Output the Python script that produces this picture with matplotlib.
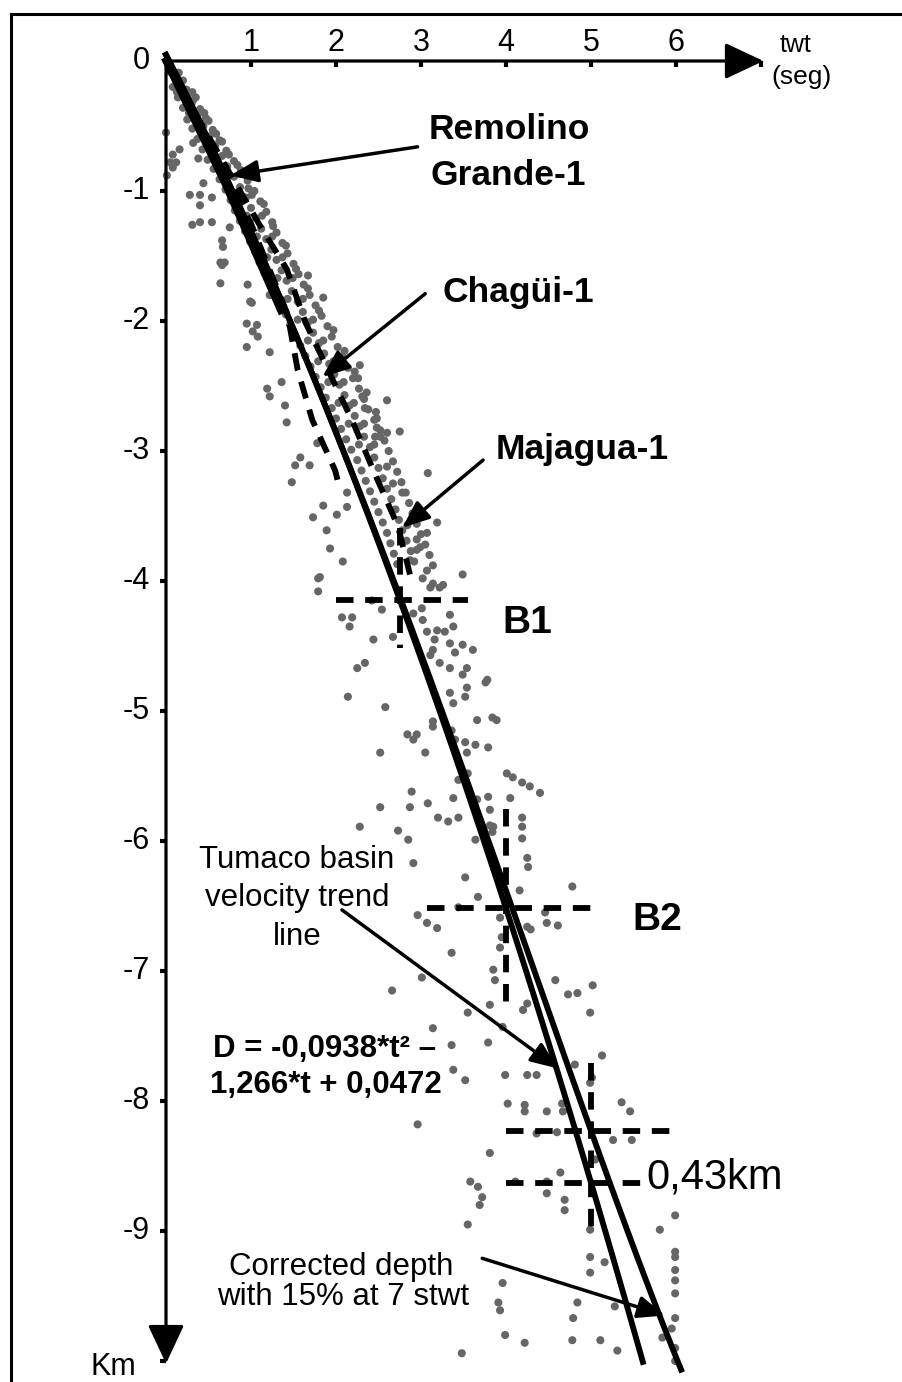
import numpy as np
import matplotlib
matplotlib.use("Agg")
import matplotlib.pyplot as plt
from matplotlib.lines import Line2D

plt.rcParams['font.family'] = ['Liberation Sans', 'DejaVu Sans']

# trend line D = a*t^2 + b*t + c  (from the chart) and the 15% correction at 7 s twt
trend_coeffs = [-0.0938, -1.266, 0.0472]
corr_at_7s = 0.15
t_trend_end = 5.61
t_corr_end = 6.06

# well curves (twt s, depth km)
well_left_t = [0, 0.5, 1.0, 1.43, 1.55, 1.72, 1.99, 2.04]
well_left_d = [0, -0.6, -1.25, -1.95, -2.38, -2.76, -3.15, -3.28]
well_right_t = [0, 0.5, 1.1, 1.42, 1.64, 2.2, 2.44, 2.73, 2.87]
well_right_d = [0, -0.58, -1.26, -1.6, -2.01, -2.78, -3.15, -3.58, -3.95]
well_top_t = [0, 0.7, 1.35]
well_top_d = [0, -0.95, -1.92]

# check-shot / velocity points
band_pts = [
    (0.04, -0.08), (0.10, -0.12), (0.15, -0.09), (0.08, -0.2), (0.17, -0.17), (0.24, -0.22),
    (0.14, -0.28), (0.25, -0.26), (0.32, -0.3), (0.2, -0.36), (0.3, -0.33), (0.4, -0.37),
    (0.25, -0.45), (0.37, -0.42), (0.47, -0.44), (0.31, -0.52), (0.44, -0.5), (0.55, -0.53),
    (0.37, -0.6), (0.51, -0.58), (0.63, -0.61), (0.43, -0.68), (0.58, -0.65), (0.71, -0.69),
    (0.49, -0.76), (0.66, -0.73), (0.8, -0.77), (0.56, -0.83), (0.72, -0.81), (0.88, -0.84),
    (0.63, -0.91), (0.8, -0.89), (0.96, -0.92), (0.7, -0.99), (0.87, -0.97), (1.04, -1.0),
    (0.76, -1.07), (0.94, -1.05), (1.11, -1.08), (0.81, -1.15), (1.0, -1.13), (1.18, -1.16),
    (0.87, -1.23), (1.06, -1.21), (1.25, -1.24), (0.93, -1.31), (1.12, -1.29), (1.3, -1.32),
    (0.99, -1.39), (1.18, -1.37), (1.37, -1.4), (1.05, -1.47), (1.24, -1.45), (1.43, -1.48),
    (1.1, -1.55), (1.3, -1.53), (1.5, -1.56), (1.16, -1.63), (1.36, -1.61), (1.56, -1.64),
    (1.22, -1.71), (1.42, -1.69), (1.62, -1.72), (1.29, -1.79), (1.48, -1.77), (1.69, -1.8),
    (1.35, -1.87), (1.55, -1.85), (1.76, -1.88), (1.41, -1.95), (1.61, -1.93), (1.83, -1.96),
    (1.46, -2.03), (1.67, -2.01), (1.9, -2.04), (1.52, -2.11), (1.73, -2.09), (1.95, -2.12),
    (1.58, -2.19), (1.8, -2.17), (2.02, -2.2), (1.64, -2.27), (1.86, -2.25), (2.08, -2.28),
    (1.7, -2.35), (1.92, -2.33), (2.14, -2.36), (1.76, -2.43), (1.98, -2.41), (2.2, -2.44),
    (1.82, -2.51), (2.04, -2.49), (2.27, -2.52), (1.88, -2.59), (2.1, -2.57), (2.33, -2.6),
    (1.95, -2.67), (2.16, -2.65), (2.38, -2.68), (2.0, -2.75), (2.22, -2.73), (2.45, -2.76),
    (2.06, -2.83), (2.28, -2.81), (2.52, -2.84), (2.12, -2.91), (2.33, -2.89), (2.57, -2.92),
    (2.18, -2.99), (2.4, -2.97), (2.62, -3.0), (2.25, -3.07), (2.45, -3.05), (2.67, -3.08),
    (2.3, -3.15), (2.5, -3.13), (2.72, -3.16), (2.35, -3.23), (2.55, -3.21), (2.77, -3.24),
    (2.4, -3.31), (2.6, -3.29), (2.82, -3.32), (2.45, -3.39), (2.65, -3.37), (2.86, -3.4),
    (2.5, -3.47), (2.7, -3.45), (2.9, -3.48), (2.55, -3.55), (2.74, -3.53), (2.95, -3.56),
    (2.6, -3.63), (2.78, -3.61), (3.0, -3.64), (2.64, -3.71), (2.83, -3.69), (3.05, -3.72),
    (2.68, -3.79), (2.88, -3.77), (3.1, -3.8), (2.72, -3.87), (2.92, -3.85), (3.14, -3.88),
    (0.13, -0.24), (0.31, -0.24), (0.27, -0.4), (0.45, -0.4), (0.41, -0.56), (0.59, -0.56),
    (0.56, -0.72), (0.74, -0.72), (0.69, -0.87), (0.87, -0.87), (0.83, -1.03), (1.01, -1.03),
    (0.95, -1.19), (1.13, -1.19), (1.07, -1.35), (1.25, -1.35), (1.19, -1.51), (1.37, -1.51),
    (1.31, -1.67), (1.49, -1.67), (1.43, -1.83), (1.61, -1.83), (1.55, -1.99), (1.73, -1.99),
    (1.67, -2.15), (1.85, -2.15), (1.79, -2.31), (1.97, -2.31), (1.91, -2.47), (2.09, -2.47),
    (2.03, -2.63), (2.21, -2.63), (2.15, -2.79), (2.33, -2.79), (2.27, -2.95), (2.45, -2.95),
    (0.2, -0.15), (0.35, -0.28), (0.5, -0.46), (0.66, -0.62), (0.84, -0.8), (0.97, -0.98),
    (1.15, -1.1), (1.26, -1.27), (1.41, -1.42), (1.53, -1.6), (1.67, -1.75), (1.8, -1.92),
    (1.97, -2.07), (2.1, -2.23), (2.22, -2.39), (2.36, -2.55), (2.47, -2.7), (2.6, -2.86),
]
shallow_pts = [
    (0.0, -0.55), (0.32, -0.63), (0.16, -0.68), (0.08, -0.72), (0.05, -0.78), (0.12, -0.78),
    (0.08, -0.82), (0.01, -0.88), (0.38, -0.75), (0.44, -0.94), (0.28, -1.03), (0.40, -1.03),
    (0.54, -1.05), (0.40, -1.11), (0.31, -1.26), (0.40, -1.24), (0.54, -1.24), (0.75, -1.28),
    (0.66, -1.38), (0.67, -1.43), (0.64, -1.55), (0.69, -1.55), (0.66, -1.57), (0.64, -1.71),
    (0.96, -1.72), (0.99, -1.85), (1.22, -1.8), (1.67, -1.65), (1.85, -1.82), (1.01, -1.86),
    (0.95, -2.02), (1.07, -2.03), (1.02, -2.08), (1.08, -2.12), (0.95, -2.2), (1.22, -2.24),
    (1.19, -2.52), (1.22, -2.58), (1.36, -2.47), (1.4, -2.65), (1.42, -2.78), (1.78, -2.94),
    (1.58, -3.05), (1.52, -3.11), (1.69, -3.11), (1.48, -3.24), (1.73, -3.51), (2.01, -3.49),
    (1.85, -3.42), (1.89, -3.61), (1.93, -3.75), (2.08, -3.85), (1.81, -3.97), (2.13, -3.32),
    (2.13, -3.43), (2.6, -2.61), (2.75, -2.85), (3.08, -3.17), (3.19, -3.55), (3.07, -3.63),
    (2.28, -2.34), (2.26, -2.44), (2.31, -2.58), (2.34, -2.67), (2.48, -2.75), (2.48, -2.82),
    (2.46, -2.89), (2.52, -2.89), (2.6, -3.12), (2.67, -3.25), (2.78, -3.32), (2.84, -3.57),
    (2.95, -3.68), (2.99, -3.74), (1.79, -3.98), (3.49, -3.95), (3.22, -4.05), (2.95, -3.76),
    (2.87, -3.84), (3.07, -3.92), (3.02, -3.98), (3.14, -4.02), (3.26, -4.03), (3.11, -4.05),
]
middle_pts = [
    (1.79, -4.08), (2.07, -4.28), (2.19, -4.28), (2.16, -4.35), (2.42, -4.15), (2.54, -4.22),
    (2.67, -4.43), (2.44, -4.45), (2.91, -4.25), (3.01, -4.21), (3.02, -4.3), (3.34, -4.26),
    (3.07, -4.39), (3.19, -4.38), (3.28, -4.39), (3.38, -4.35), (3.16, -4.45), (3.34, -4.48),
    (3.49, -4.49), (3.61, -4.53), (3.4, -4.55), (3.14, -4.53), (3.11, -4.57), (2.34, -4.63),
    (2.25, -4.67), (3.22, -4.63), (3.34, -4.67), (3.54, -4.67), (3.49, -4.72), (3.78, -4.76),
    (3.76, -4.78), (2.14, -4.89), (3.34, -4.86), (3.54, -4.82), (3.52, -4.89), (3.38, -4.94),
    (2.58, -4.97), (3.66, -5.07), (3.84, -5.05), (3.89, -5.07), (3.14, -5.08), (3.14, -5.12),
    (2.84, -5.18), (2.95, -5.18), (2.91, -5.22), (2.52, -5.32), (3.05, -5.32), (3.36, -5.15),
    (3.52, -5.24), (3.64, -5.26), (3.54, -5.32), (3.79, -5.28), (3.4, -5.22), (4.01, -5.48),
    (4.08, -5.51), (4.19, -5.55), (4.28, -5.58), (4.4, -5.63), (3.55, -5.48), (3.44, -5.53),
    (2.89, -5.62), (2.87, -5.74), (2.52, -5.74), (3.08, -5.71), (3.38, -5.67), (3.66, -5.68),
    (3.79, -5.66), (4.05, -5.67), (3.2, -5.82), (3.32, -5.85), (3.44, -5.82), (3.81, -5.76),
    (3.81, -5.88), (4.19, -5.82), (4.19, -5.89), (2.28, -5.89), (2.73, -5.92), (2.85, -5.99),
    (3.85, -5.89), (3.84, -5.93), (3.64, -5.99), (4.19, -5.98), (4.25, -6.13), (4.26, -6.2),
    (2.91, -6.17), (3.52, -6.28), (4.16, -6.38), (4.78, -6.35), (3.44, -6.51), (3.67, -6.43),
    (2.96, -6.57), (3.07, -6.63), (3.19, -6.67), (3.93, -6.59), (4.25, -6.66), (4.29, -6.68),
    (4.46, -6.55), (4.48, -6.63), (4.61, -6.65), (3.36, -6.86), (3.95, -6.74), (3.93, -6.82),
]
deep_pts = [
    (3.01, -7.05), (3.85, -6.99), (3.87, -7.07), (4.58, -7.07), (4.73, -7.18), (4.84, -7.17),
    (5.02, -7.11), (2.66, -7.15), (3.55, -7.32), (3.81, -7.26), (4.25, -7.25), (4.2, -7.3),
    (3.96, -7.43), (4.99, -7.32), (3.14, -7.44), (3.79, -7.55), (3.36, -7.57), (3.38, -7.76),
    (3.52, -7.84), (3.99, -7.8), (4.25, -7.8), (4.36, -7.8), (4.81, -7.72), (5.13, -7.65),
    (4.99, -7.86), (5.01, -7.82), (4.02, -8.02), (4.22, -8.03), (4.22, -8.08), (4.48, -8.08),
    (4.67, -8.08), (4.66, -8.02), (5.36, -8.01), (5.46, -8.08), (2.96, -8.18), (4.36, -8.25),
    (4.6, -8.24), (5.26, -8.3), (5.48, -8.3), (3.81, -8.4), (3.58, -8.62), (3.67, -8.66),
    (3.72, -8.74), (3.69, -8.8), (4.11, -8.62), (4.48, -8.62), (4.48, -8.71), (4.64, -8.55),
    (4.69, -8.76), (4.69, -8.84), (5.05, -8.45), (4.99, -8.99), (3.55, -8.95), (5.99, -8.88),
    (5.81, -8.99), (5.99, -9.16), (5.99, -9.2), (5.16, -9.24), (4.99, -9.2), (4.99, -9.32),
    (5.99, -9.3), (5.99, -9.38), (5.99, -9.48), (3.96, -9.4), (3.91, -9.55), (3.93, -9.61),
    (4.84, -9.55), (5.28, -9.58), (4.79, -9.67), (5.99, -9.67), (5.95, -9.75), (5.84, -9.82),
    (3.99, -9.8), (4.22, -9.86), (4.78, -9.84), (5.11, -9.84), (5.31, -9.92), (3.48, -9.94),
    (5.99, -9.9), (5.99, -10.0),
]

# marker crosses: twt (s), vertical reach above / below the trend (km)
marker_t = [2.75, 4.0, 5.0]
marker_up = [0.55, 0.76, 0.92]
marker_down = [0.37, 0.73, 0.36]
marker_labels = ['B1', 'B2', '0,43km']

x_ticks = [1, 2, 3, 4, 5, 6]
y_ticks = [0, -1, -2, -3, -4, -5, -6, -7, -8, -9]


def trend(t):
    return np.polyval(trend_coeffs, t)


def corrected(t):
    return trend(t) * (1 - corr_at_7s * (np.asarray(t) / 7.0) ** 3.5)


W, H = 903, 1382
X0, Y0, SX, SY = 166, 61, 85.0, 130.0
fig = plt.figure(figsize=(W / 100, H / 100), dpi=100)
ax = fig.add_axes([0, 0, 1, 1])
ax.set_xlim(-X0 / SX, (W - X0) / SX)
ax.set_ylim(-(H - Y0) / SY, Y0 / SY)
ax.axis('off')

# frame (left and top only)
fig.add_artist(Line2D([11 / W, 11 / W], [0, 1 - 14 / H], transform=fig.transFigure, color='k', lw=2.2))
fig.add_artist(Line2D([11 / W, 1], [1 - 14 / H, 1 - 14 / H], transform=fig.transFigure, color='k', lw=2.2))

pts = np.array(band_pts + shallow_pts + middle_pts + deep_pts)
ax.scatter(pts[:, 0], pts[:, 1], s=34, color='#666666', edgecolors='none', zorder=2)

# axes with arrows
arr = dict(arrowstyle='-|>,head_length=1.6,head_width=0.75', color='k', lw=2.3,
           mutation_scale=15, shrinkA=0, shrinkB=0)
ax.annotate('', xy=(7.03, 0), xytext=(-0.02, 0), arrowprops=arr, zorder=5)
ax.annotate('', xy=(0, -10.02), xytext=(0, 0.02), arrowprops=arr, zorder=5)
for t in x_ticks + [7]:
    ax.plot([t, t], [0, -0.05], color='k', lw=3, solid_capstyle='butt', zorder=5)
for d in y_ticks[1:] + [-10]:
    ax.plot([-0.075, 0], [d, d], color='k', lw=3, solid_capstyle='butt', zorder=5)

for t in x_ticks:
    ax.text(t, 0.14, str(t), ha='center', va='center', fontsize=22)
for d in y_ticks:
    ax.text(-0.19, d, str(d), ha='right', va='center', fontsize=22)
ax.text(7.4, 0.12, 'twt', ha='center', va='center', fontsize=18)
ax.text(7.48, -0.12, '(seg)', ha='center', va='center', fontsize=19)
ax.text(-0.62, -10.05, 'Km', ha='center', va='center', fontsize=22)

# trend and corrected lines
LW = 4.2
tt = np.linspace(0, t_trend_end, 200)
ax.plot(tt, trend(tt), color='k', lw=LW, zorder=4)
tc = np.linspace(0, t_corr_end, 200)
ax.plot(tc, corrected(tc), color='k', lw=LW, zorder=4)

# well curves
dash = (0, (3, 2))
ax.plot(well_top_t, well_top_d, color='k', lw=LW + 1, zorder=4)
ax.plot(well_left_t, well_left_d, color='k', lw=LW, ls=dash, zorder=4)
ax.plot(well_right_t, well_right_d, color='k', lw=LW, ls=dash, zorder=4)

# marker crosses
for t0, up, dn in zip(marker_t, marker_up, marker_down):
    d0 = trend(t0)
    ax.plot([t0, t0], [d0 + up, d0 - dn], color='k', lw=LW, ls=dash, zorder=4)
ax.plot([2.0, 3.55], [trend(2.75)] * 2, color='k', lw=LW, ls=dash, zorder=4)
ax.plot([3.07, 5.07], [trend(4.0)] * 2, color='k', lw=LW, ls=dash, zorder=4)
ax.plot([4.0, 6.0], [corrected(5.0)] * 2, color='k', lw=LW, ls=dash, zorder=4)
ax.plot([4.0, 5.6], [trend(5.0)] * 2, color='k', lw=LW, ls=dash, zorder=4)

ax.text(4.25, -4.32, marker_labels[0], ha='center', va='center', fontsize=28, fontweight='bold')
ax.text(5.78, -6.61, marker_labels[1], ha='center', va='center', fontsize=28, fontweight='bold')
ax.text(6.45, -8.59, marker_labels[2], ha='center', va='center', fontsize=30)

# annotations
ann = dict(arrowstyle='-|>,head_length=1.1,head_width=0.45', color='k', lw=2.5,
           mutation_scale=15, shrinkA=0, shrinkB=0)
ax.annotate('', xy=(0.76, -0.88), xytext=(2.96, -0.66), arrowprops=ann, zorder=6)
ax.annotate('', xy=(1.84, -2.43), xytext=(3.05, -1.79), arrowprops=ann, zorder=6)
ax.annotate('', xy=(2.78, -3.59), xytext=(3.73, -3.07), arrowprops=ann, zorder=6)
ax.annotate('', xy=(4.61, -7.75), xytext=(2.07, -6.53), arrowprops=ann, zorder=6)
ax.annotate('', xy=(5.87, -9.65), xytext=(3.72, -9.21), arrowprops=ann, zorder=6)

ax.text(4.04, -0.53, 'Remolino', ha='center', va='center', fontsize=25.5, fontweight='bold')
ax.text(4.03, -0.88, 'Grande-1', ha='center', va='center', fontsize=25.5, fontweight='bold')
ax.text(4.15, -1.78, 'Chagüi-1', ha='center', va='center', fontsize=25.5, fontweight='bold')
ax.text(4.9, -2.99, 'Majagua-1', ha='center', va='center', fontsize=25.5, fontweight='bold')

ax.text(1.54, -6.15, 'Tumaco basin', ha='center', va='center', fontsize=22.5)
ax.text(1.54, -6.44, 'velocity trend', ha='center', va='center', fontsize=22.5)
ax.text(1.54, -6.74, 'line', ha='center', va='center', fontsize=22.5)

ax.text(1.87, -7.6, 'D = -0,0938*t² –', ha='center', va='center', fontsize=22.5, fontweight='bold')
ax.text(1.88, -7.88, '1,266*t + 0,0472', ha='center', va='center', fontsize=22.5, fontweight='bold')

ax.text(2.06, -9.28, 'Corrected depth', ha='center', va='center', fontsize=22.5)
ax.text(2.08, -9.51, 'with 15% at 7 stwt', ha='center', va='center', fontsize=22.5)

fig.savefig('out.png', dpi=100)
